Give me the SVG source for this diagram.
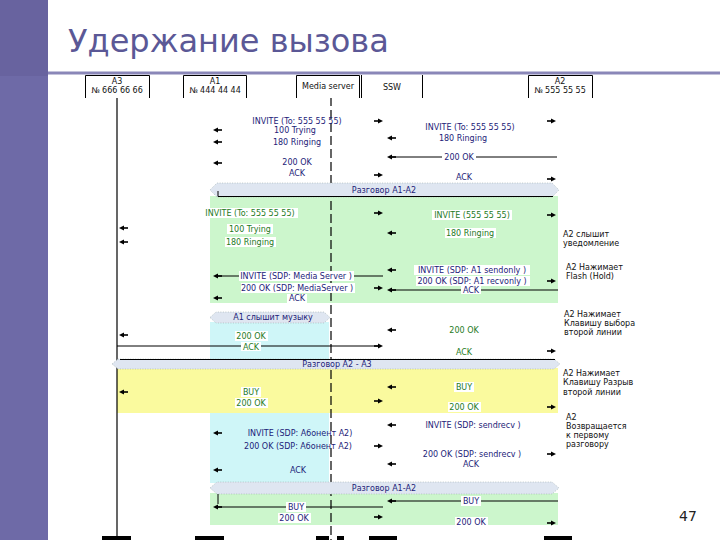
<svg xmlns="http://www.w3.org/2000/svg" xmlns:xlink="http://www.w3.org/1999/xlink" width="720" height="540" viewBox="0 0 720 540">
<defs>
<style>
.t{font-family:"DejaVu Sans","Liberation Sans",sans-serif;font-size:8px;text-anchor:middle}
.n{fill:#1c1c78}
.g{fill:#1e7a1e}
.k{fill:#111}
.note{font-family:"DejaVu Sans","Liberation Sans",sans-serif;font-size:8px;fill:#111}
.bg{fill:#fff}
.ln{stroke:#000;stroke-width:1;fill:none}
.box{stroke:#000;stroke-width:1;fill:#fff}
.band{fill:#dfe6f1;stroke:#9aa;stroke-width:0.6;stroke-dasharray:1 1.5}
</style>
<g id="aL"><path d="M0,0 L5,-2.6 L5,2.6 Z" fill="#000"/><rect x="4.5" y="-0.8" width="4.5" height="1.6" fill="#000"/></g>
<g id="aR"><path d="M0,0 L-5,-2.6 L-5,2.6 Z" fill="#000"/><rect x="-9" y="-0.8" width="4.5" height="1.6" fill="#000"/></g>
</defs>
<rect width="720" height="540" fill="#fff"/>
<g id="frame">
<rect x="0" y="0" width="48" height="540" fill="#68639f"/>
<rect x="0" y="76" width="48" height="464" fill="#6e6aa7"/>
<line x1="48" y1="73" x2="720" y2="73" stroke="#8a87b8" stroke-width="3"/>
<text x="68" y="52" font-family="DejaVu Sans,Liberation Sans,sans-serif" font-size="32" fill="#5b5896">Удержание вызова</text>
<text x="688" y="521" font-family="DejaVu Sans,Liberation Sans,sans-serif" font-size="14" fill="#222" text-anchor="middle">47</text>
</g>
<g id="regions">
<rect x="210" y="196" width="348" height="107" fill="#ccf6cc"/>
<rect x="210" y="322" width="119" height="38" fill="#cff6f8"/>
<rect x="117" y="368" width="441" height="45" fill="#fafa9e"/>
<rect x="210" y="413" width="119" height="70" fill="#cff6f8"/>
<rect x="210" y="493" width="348" height="32" fill="#ccf6cc"/>
</g>
<g id="lifelines">
<line x1="117" y1="97" x2="117" y2="537" stroke="#000" stroke-width="1.2"/>
<line x1="331" y1="97" x2="331" y2="540" stroke="#000" stroke-width="1.2" stroke-dasharray="9 4"/>
<g fill="#000">
<rect x="102" y="536" width="29" height="4"/>
<rect x="195" y="536" width="29" height="4"/>
<rect x="316" y="536" width="13" height="4"/>
<rect x="337" y="536" width="7" height="4"/>
<rect x="369" y="536" width="28" height="4"/>
<rect x="544" y="536" width="28" height="4"/>
</g>
</g>
<g id="node-A3">
<path class="box" d="M85.5,98 V75.5 H149.5 V98"/>
<text class="t k" x="117" y="84">А3</text>
<text class="t k" x="117" y="93">№ 666 66 66</text>
</g>
<g id="node-A1">
<path class="box" d="M183.5,98 V75.5 H246.5 V98"/>
<text class="t k" x="215" y="84">А1</text>
<text class="t k" x="215" y="93">№ 444 44 44</text>
</g>
<g id="node-media">
<path class="box" d="M296.5,98 V75.5 H359.5 V98"/>
<line class="ln" x1="361.5" y1="75" x2="361.5" y2="98"/>
<text class="t k" x="328" y="89">Media server</text>
</g>
<g id="node-SSW">
<line class="ln" x1="422.5" y1="75" x2="422.5" y2="98"/>
<text class="t k" x="392" y="90">SSW</text>
</g>
<g id="node-A2">
<path class="box" d="M528.5,98 V75.5 H592.5 V98"/>
<text class="t k" x="560" y="84">А2</text>
<text class="t k" x="560" y="93">№ 555 55 55</text>
</g>
<g id="bands">
<path class="band" d="M210,190 L217,183 H552 L559,190 L552,197 H217 Z"/>
<text class="t n" x="384" y="193">Разговор А1-А2</text>
<path class="band" d="M210,317.5 L216,312 H324 L330,317.5 L324,323 H216 Z"/>
<text class="t n" x="273" y="320">А1 слышит музыку</text>
<path class="band" d="M112,364 L118,359 H554 L560,364 L554,369 H118 Z"/>
<text class="t n" x="337" y="367">Разговор А2 - А3</text>
<path class="band" d="M210,488 L217,482 H552 L559,488 L552,494 H217 Z"/>
<text class="t n" x="384" y="491">Разговор А1-А2</text>
</g>
<g id="connectors">
<use xlink:href="#aR" x="383" y="121"/>
<use xlink:href="#aR" x="556" y="121"/>
<use xlink:href="#aL" x="213" y="130"/>
<use xlink:href="#aL" x="213" y="142"/>
<use xlink:href="#aL" x="387" y="138"/>
<line class="ln" x1="389" y1="157" x2="557" y2="157"/>
<use xlink:href="#aL" x="387" y="157"/>
<use xlink:href="#aL" x="213" y="163"/>
<use xlink:href="#aR" x="383" y="175"/>
<use xlink:href="#aR" x="556" y="179"/>
<path class="ln" d="M218,191 V196.5 H553"/>
<use xlink:href="#aR" x="383" y="213"/>
<use xlink:href="#aR" x="556" y="215"/>
<use xlink:href="#aL" x="119" y="228"/>
<use xlink:href="#aL" x="119" y="242"/>
<use xlink:href="#aL" x="387" y="233"/>
<use xlink:href="#aL" x="387" y="270"/>
<line class="ln" x1="215" y1="276" x2="383" y2="276"/>
<use xlink:href="#aL" x="213" y="276"/>
<use xlink:href="#aR" x="556" y="281"/>
<use xlink:href="#aR" x="383" y="288"/>
<line class="ln" x1="389" y1="290" x2="558" y2="290"/>
<use xlink:href="#aL" x="387" y="290"/>
<use xlink:href="#aL" x="213" y="298"/>
<use xlink:href="#aL" x="387" y="330"/>
<use xlink:href="#aL" x="119" y="335"/>
<line class="ln" x1="117" y1="346" x2="381" y2="346"/>
<use xlink:href="#aR" x="383" y="346"/>
<use xlink:href="#aR" x="556" y="351"/>
<line class="ln" x1="120" y1="359.5" x2="555" y2="359.5"/>
<use xlink:href="#aL" x="387" y="387"/>
<use xlink:href="#aL" x="119" y="392"/>
<use xlink:href="#aR" x="383" y="401"/>
<use xlink:href="#aR" x="556" y="407"/>
<use xlink:href="#aL" x="387" y="425"/>
<use xlink:href="#aL" x="213" y="433"/>
<use xlink:href="#aR" x="383" y="446"/>
<use xlink:href="#aR" x="556" y="454"/>
<use xlink:href="#aL" x="387" y="464"/>
<use xlink:href="#aL" x="213" y="470"/>
<line class="ln" x1="218" y1="494" x2="218" y2="504"/>
<line class="ln" x1="389" y1="501" x2="558" y2="501"/>
<use xlink:href="#aL" x="387" y="501"/>
<line class="ln" x1="215" y1="507" x2="383" y2="507"/>
<use xlink:href="#aL" x="213" y="507"/>
<use xlink:href="#aR" x="383" y="517"/>
<use xlink:href="#aR" x="556" y="523"/>
</g>
<g id="labels">
<text class="t n" x="297" y="124">INVITE (To: 555 55 55)</text>
<text class="t n" x="295" y="133">100 Trying</text>
<text class="t n" x="297" y="145">180 Ringing</text>
<text class="t n" x="297" y="165">200 OK</text>
<text class="t n" x="297" y="176">ACK</text>
<text class="t n" x="470" y="130">INVITE (To: 555 55 55)</text>
<text class="t n" x="463" y="141">180 Ringing</text>
<rect class="bg" x="442" y="153" width="34" height="8"/>
<text class="t n" x="459" y="160">200 OK</text>
<text class="t n" x="464" y="180">ACK</text>
<rect class="bg" x="203" y="208" width="95" height="10"/>
<text class="t g" x="250" y="216">INVITE (To: 555 55 55)</text>
<rect class="bg" x="227" y="224" width="46" height="10"/>
<text class="t g" x="250" y="232">100 Trying</text>
<rect class="bg" x="225" y="237" width="51" height="10"/>
<text class="t g" x="250" y="245">180 Ringing</text>
<rect class="bg" x="432" y="210" width="80" height="10"/>
<text class="t g" x="472" y="218">INVITE (555 55 55)</text>
<rect class="bg" x="445" y="228" width="51" height="10"/>
<text class="t g" x="470" y="236">180 Ringing</text>
<rect class="bg" x="239" y="271" width="115" height="10"/>
<text class="t n" x="296" y="279">INVITE (SDP: Media Server )</text>
<rect class="bg" x="414" y="265" width="116" height="10"/>
<text class="t n" x="472" y="273">INVITE (SDP: A1 sendonly )</text>
<rect class="bg" x="416" y="276" width="114" height="10"/>
<text class="t n" x="472" y="284">200 OK (SDP: A1 recvonly )</text>
<rect class="bg" x="241" y="283" width="114" height="10"/>
<text class="t n" x="297" y="291">200 OK (SDP: MediaServer )</text>
<rect class="bg" x="461" y="285" width="20" height="9"/>
<text class="t n" x="471" y="293">ACK</text>
<rect class="bg" x="287" y="294" width="20" height="9"/>
<text class="t n" x="297" y="301">ACK</text>
<rect class="bg" x="235" y="331" width="33" height="10"/>
<text class="t g" x="251" y="339">200 OK</text>
<rect class="bg" x="241" y="342" width="20" height="9"/>
<text class="t g" x="251" y="350">ACK</text>
<text class="t g" x="464" y="333">200 OK</text>
<text class="t g" x="464" y="355">ACK</text>
<rect class="bg" x="241" y="387" width="20" height="10"/>
<text class="t g" x="251" y="395">BUY</text>
<rect class="bg" x="235" y="398" width="33" height="10"/>
<text class="t g" x="251" y="406">200 OK</text>
<rect class="bg" x="454" y="382" width="20" height="10"/>
<text class="t g" x="464" y="390">BUY</text>
<rect class="bg" x="448" y="402" width="33" height="10"/>
<text class="t g" x="464" y="410">200 OK</text>
<text class="t n" x="300" y="436">INVITE (SDP: Абонент А2)</text>
<text class="t n" x="298" y="449">200 OK (SDP: Абонент А2)</text>
<text class="t n" x="298" y="473">ACK</text>
<text class="t n" x="473" y="428">INVITE (SDP: sendrecv )</text>
<text class="t n" x="472" y="457">200 OK (SDP: sendrecv )</text>
<text class="t n" x="471" y="467">ACK</text>
<rect class="bg" x="286" y="502" width="20" height="10"/>
<text class="t n" x="296" y="510">BUY</text>
<rect class="bg" x="278" y="513" width="33" height="10"/>
<text class="t n" x="294" y="521">200 OK</text>
<rect class="bg" x="461" y="496" width="20" height="10"/>
<text class="t n" x="471" y="504">BUY</text>
<rect class="bg" x="455" y="517" width="33" height="8"/>
<text class="t n" x="471" y="525">200 OK</text>
</g>
<g id="notes">
<text class="note" x="563" y="237">А2 слышит</text>
<text class="note" x="563" y="246">уведомление</text>
<text class="note" x="566" y="270">А2 Нажимает</text>
<text class="note" x="566" y="279">Flash (Hold)</text>
<text class="note" x="564" y="317">А2 Нажимает</text>
<text class="note" x="564" y="326">Клавишу выбора</text>
<text class="note" x="564" y="335">второй линии</text>
<text class="note" x="563" y="376">А2 Нажимает</text>
<text class="note" x="563" y="385">Клавишу Разрыв</text>
<text class="note" x="563" y="395">второй линии</text>
<text class="note" x="566" y="420">А2</text>
<text class="note" x="566" y="429">Возвращается</text>
<text class="note" x="566" y="438">к первому</text>
<text class="note" x="566" y="447">разговору</text>
</g>
</svg>
